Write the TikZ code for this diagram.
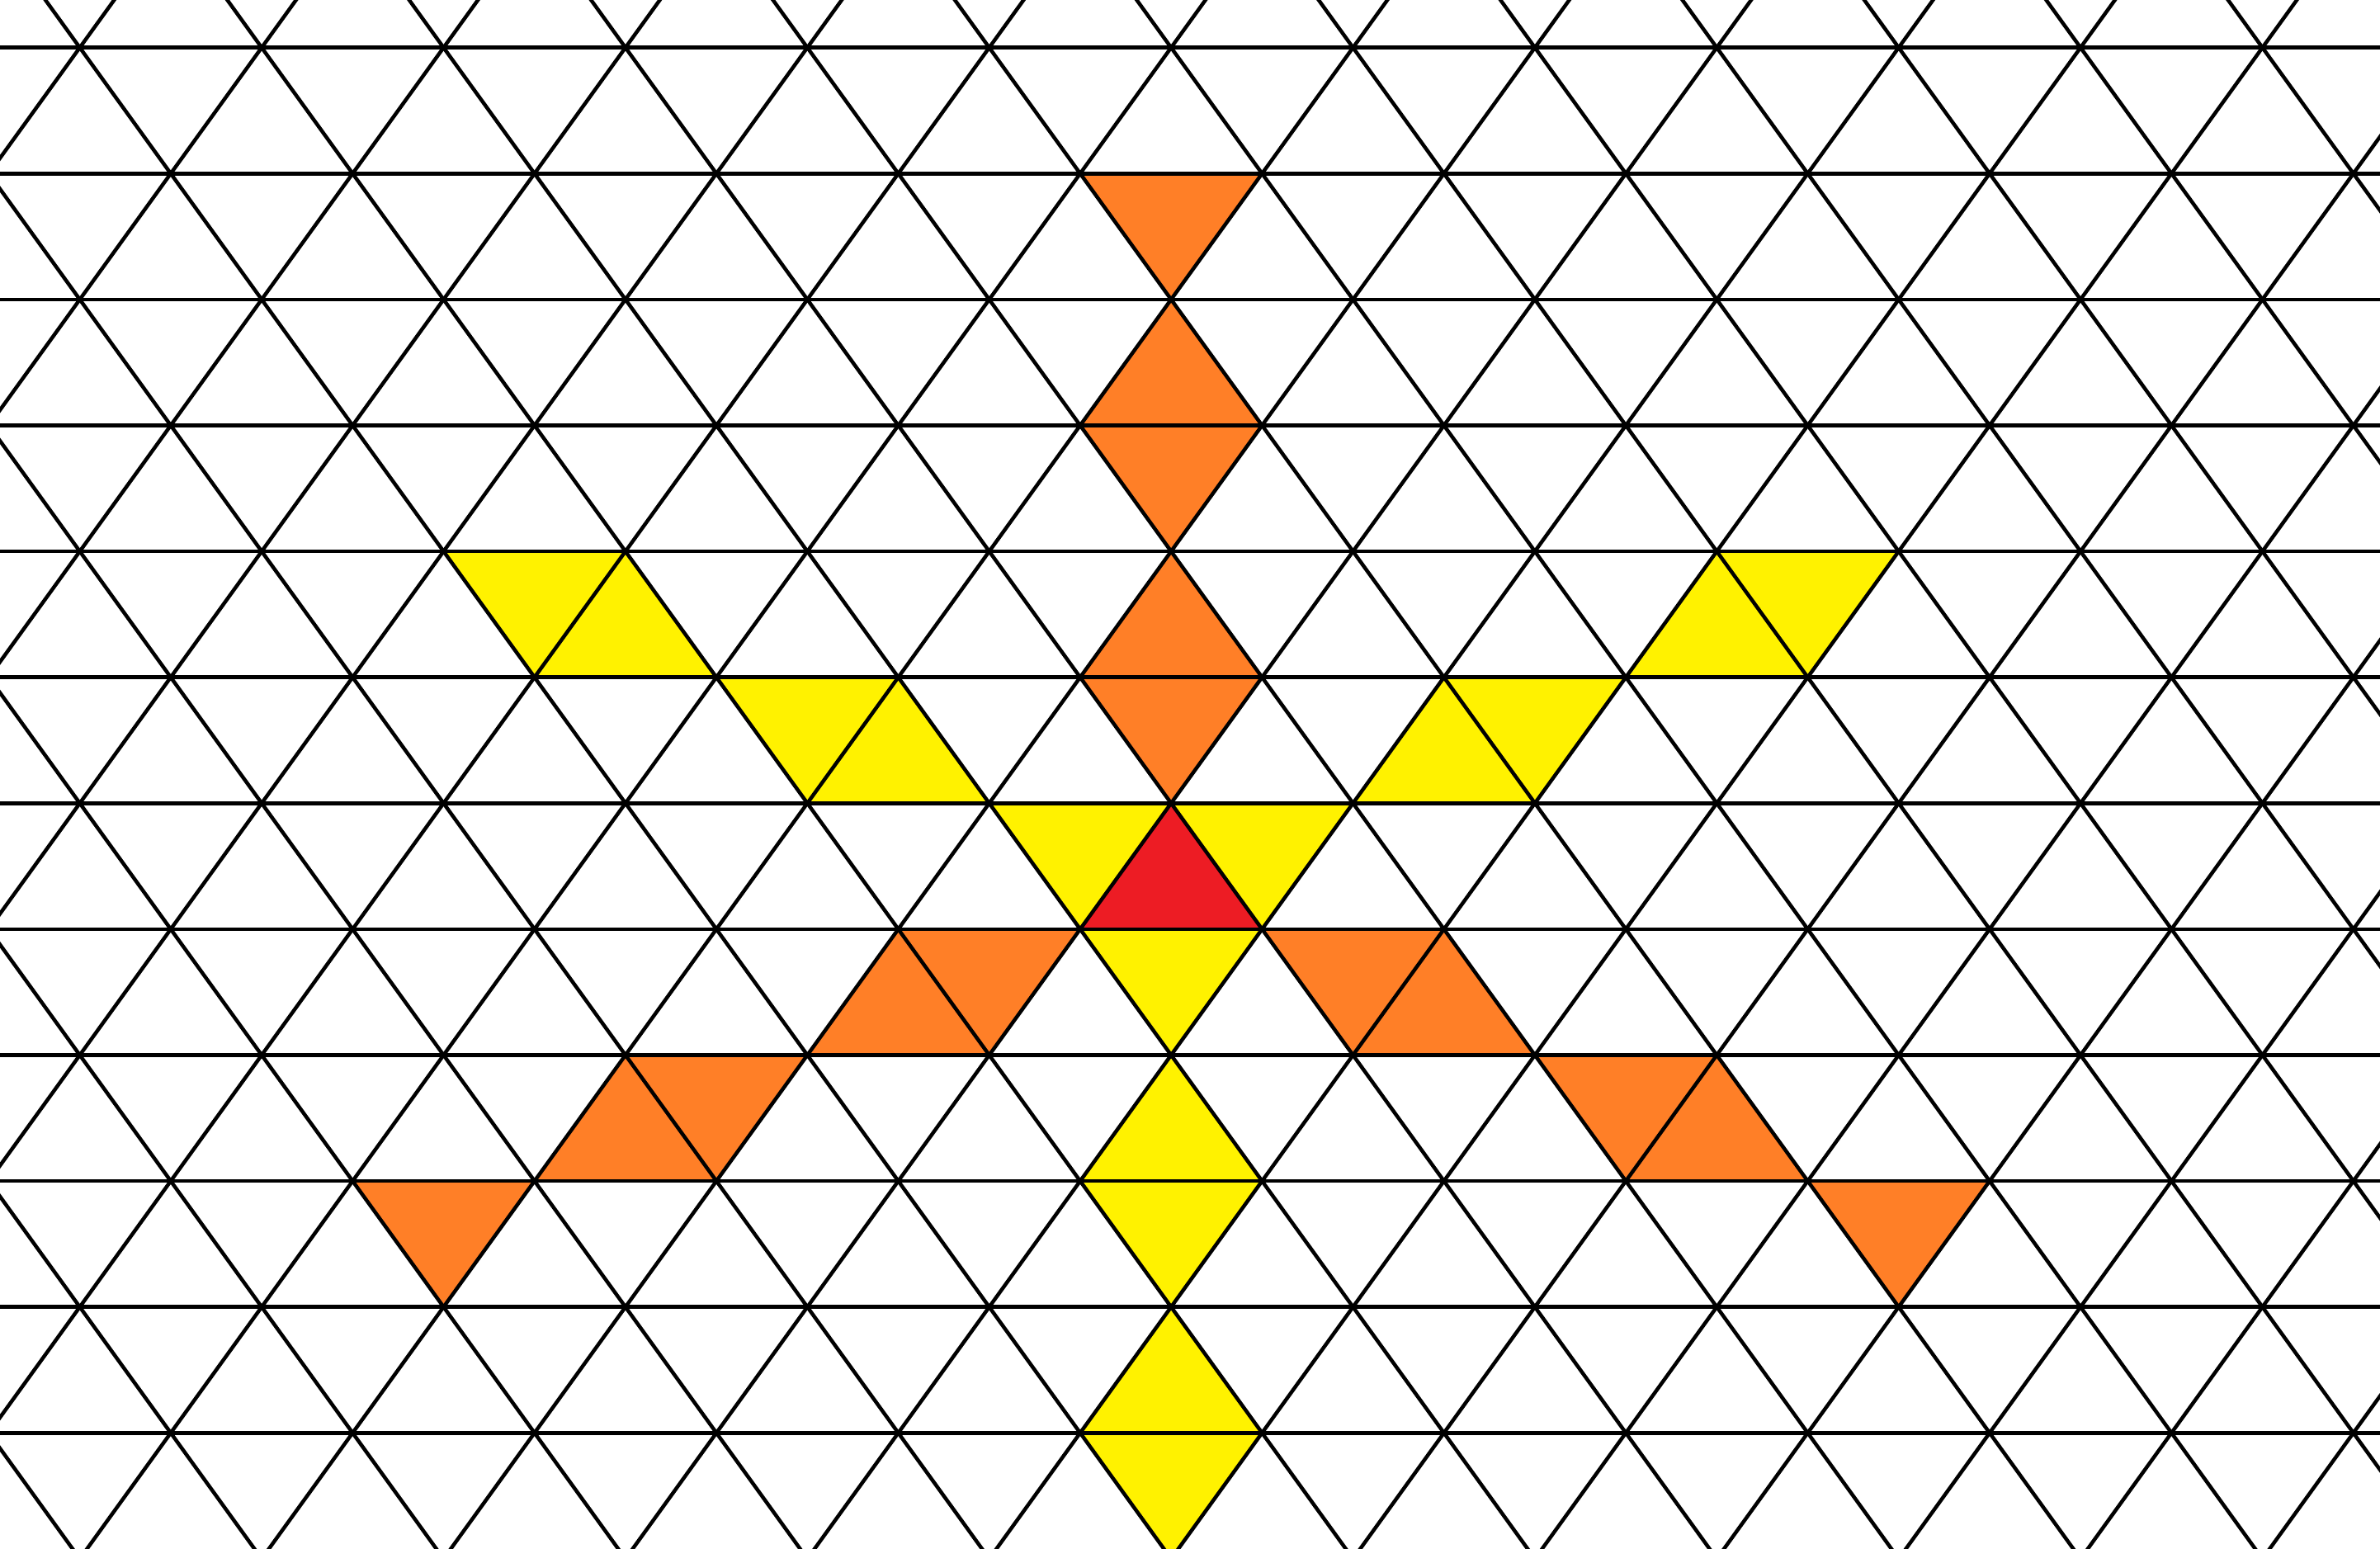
\documentclass[tikz,border=0pt]{standalone}
\definecolor{porange}{RGB}{255,127,39}
\definecolor{pyellow}{RGB}{255,242,0}
\definecolor{pred}{RGB}{237,28,36}
\tikzset{
  gridline/.style={line width=0.45mm, black},
}
\begin{document}
\begin{tikzpicture}[x=1.102cm, y=-1.526cm]
\useasboundingbox (-0.8775,-0.3781) rectangle (25.293,11.9155);
\clip (-0.8775,-0.3781) rectangle (25.293,11.9155);
\fill[white] (-0.8775,-0.3781) rectangle (25.293,11.9155);
% orange triangles
\foreach \i/\j in {12/1,12/3,12/5,10/7,14/7,7/8,17/8,4/9,20/9}
  \fill[porange] (\i-1,\j) -- (\i+1,\j) -- (\i,\j+1) -- cycle;
\foreach \i/\j in {12/2,12/4,9/7,15/7,6/8,18/8}
  \fill[porange] (\i,\j) -- (\i-1,\j+1) -- (\i+1,\j+1) -- cycle;
% yellow triangles
\foreach \i/\j in {11/6,13/6,12/7,12/9,12/11,8/5,16/5,5/4,19/4}
  \fill[pyellow] (\i-1,\j) -- (\i+1,\j) -- (\i,\j+1) -- cycle;
\foreach \i/\j in {12/8,12/10,9/5,15/5,6/4,18/4}
  \fill[pyellow] (\i,\j) -- (\i-1,\j+1) -- (\i+1,\j+1) -- cycle;
% red triangle
\fill[pred] (12,6) -- (11,7) -- (13,7) -- cycle;
% grid
\foreach \j in {-1,...,12}
  \draw[gridline] (-2,\j) -- (27,\j);
\foreach \m in {-8,...,20} {
  \draw[gridline] (2*\m-2,-2) -- (2*\m+14,14);
  \draw[gridline] (2*\m+2,-2) -- (2*\m-14,14);
}
\end{tikzpicture}
\end{document}
